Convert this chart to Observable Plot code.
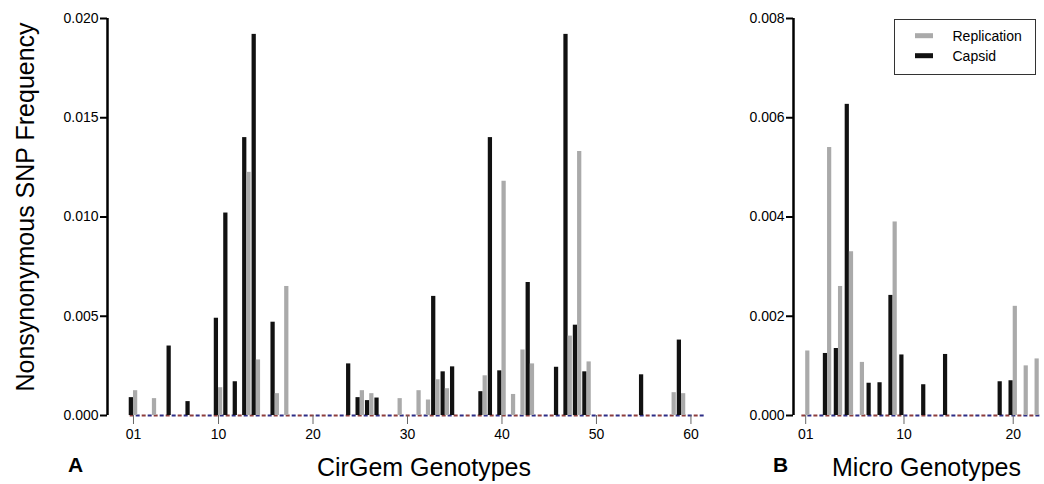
<!DOCTYPE html>
<html>
<head>
<meta charset="utf-8">
<script src="https://cdn.jsdelivr.net/npm/d3@7"></script>
<script src="https://cdn.jsdelivr.net/npm/@observablehq/plot@0.6"></script>
<style>
  html, body { margin: 0; padding: 0; background: #fff; }
  #wrap { position: relative; width: 1044px; height: 484px; overflow: hidden; font-family: "Liberation Sans", Arial, sans-serif; }
  #wrap > svg { position: absolute; top: 0; }
</style>
</head>
<body>
<div id="wrap"></div>
<script>
// ---- Data ----
const cirgemCapsidIds  = [1,5,7,10,11,12,13,14,16,24,25,26,27,33,34,35,38,39,40,43,46,47,48,49,55,59];
const cirgemCapsidVals = [0.0009,0.0035,0.0007,0.0049,0.0102,0.0017,0.0140,0.0192,0.0047,0.0026,0.0009,0.00075,0.00088,0.0060,0.0022,0.00245,0.0012,0.0140,0.00225,0.0067,0.00243,0.0192,0.00455,0.0022,0.00205,0.0038];
const cirgemRepIds     = [1,3,10,13,14,16,17,25,26,29,31,32,33,34,38,40,41,42,43,47,48,49,58,59];
const cirgemRepVals    = [0.00125,0.00085,0.0014,0.01225,0.0028,0.0011,0.0065,0.00125,0.0011,0.00085,0.00125,0.00078,0.0018,0.00135,0.0020,0.0118,0.00106,0.0033,0.0026,0.0040,0.0133,0.0027,0.00115,0.0011];

const microCapsidIds   = [3,4,5,7,8,9,10,12,14,19,20];
const microCapsidVals  = [0.00125,0.00135,0.00627,0.00065,0.00066,0.00242,0.00122,0.00062,0.00123,0.00068,0.0007];
const microRepIds      = [1,3,4,5,6,9,20,21,22];
const microRepVals     = [0.0013,0.0054,0.0026,0.0033,0.00107,0.0039,0.0022,0.001,0.00114];

const cirgemXTicks = [1,10,20,30,40,50,60];
const microXTicks  = [1,10,20];
const cirgemYTicks = [0,0.005,0.010,0.015,0.020];
const microYTicks  = [0,0.002,0.004,0.006,0.008];

const seriesNames = ["Replication","Capsid"];
const seriesColors = ["#aaaaaa","#111111"];

const zip = (ids, vals) => ids.map((g, i) => ({g, v: vals[i]}));

function panel(o) {
  const cap = zip(o.capIds, o.capVals);
  const rep = zip(o.repIds, o.repVals);
  return Plot.plot({
    width: o.width, height: 484,
    marginLeft: o.marginLeft, marginRight: o.marginRight, marginTop: 18, marginBottom: 69,
    x: {domain: o.xDomain},
    y: {domain: [0, o.yMax]},
    style: {fontFamily: "Liberation Sans, Arial, sans-serif", color: "#000", background: "transparent", overflow: "visible"},
    marks: [
      Plot.ruleY([0], {x1: 0.65, x2: o.dashEnd, stroke: "#8e3d3d", strokeWidth: 2, strokeDasharray: "4 8"}),
      Plot.ruleY([0], {x1: 0.65, x2: o.dashEnd, stroke: "#2d2d86", strokeWidth: 2, strokeDasharray: "4 8", strokeDashoffset: -6}),
      Plot.rect(cap, {x1: d => d.g - o.w, x2: d => d.g, y1: () => 0, y2: d => d.v, fill: seriesColors[1]}),
      Plot.rect(rep, {x1: d => d.g, x2: d => d.g + o.w, y1: () => 0, y2: d => d.v, fill: seriesColors[0]}),
      Plot.ruleX([o.xDomain[0]], {y1: 0, y2: o.yMax, stroke: "#000", strokeWidth: 2.5}),
      Plot.axisY(o.yTicks, {tickFormat: d3.format(".3f"), tickSize: 7, tickPadding: 2, fontSize: 14, strokeWidth: 2, label: null}),
      Plot.axisX(o.xTicks, {tickFormat: d => d < 10 ? "0" + d : String(d), tickSize: 9, tickPadding: 5, fontSize: 14, stroke: "#666", strokeWidth: 1, label: null})
    ]
  });
}

const wrap = document.getElementById("wrap");

const left = panel({
  width: 720, marginLeft: 107, marginRight: 10.65, xDomain: [-1.75, 62], yMax: 0.02, yTicks: cirgemYTicks,
  capIds: cirgemCapsidIds, capVals: cirgemCapsidVals, repIds: cirgemRepIds, repVals: cirgemRepVals,
  w: 0.45, xTicks: cirgemXTicks, dashEnd: 61.4
});
left.style.left = "0px";
wrap.appendChild(left);

const right = panel({
  width: 324, marginLeft: 73, marginRight: 2.9, xDomain: [-0.117, 22.6], yMax: 0.008, yTicks: microYTicks,
  capIds: microCapsidIds, capVals: microCapsidVals, repIds: microRepIds, repVals: microRepVals,
  w: 0.385, xTicks: microXTicks, dashEnd: 22.5
});
right.style.left = "720px";
wrap.appendChild(right);

// ---- Annotation overlay: titles, panel letters, legend ----
const ns = "http://www.w3.org/2000/svg";
const ov = d3.create("svg").attr("width", 1044).attr("height", 484)
  .style("left", "0px").style("pointer-events", "none")
  .attr("font-family", "Liberation Sans, Arial, sans-serif");

ov.append("text").attr("transform", "translate(34,207) rotate(-90)").attr("text-anchor", "middle")
  .attr("font-size", 25).text("Nonsynonymous SNP Frequency");
ov.append("text").attr("x", 317).attr("y", 476).attr("font-size", 25).text("CirGem Genotypes");
ov.append("text").attr("x", 832).attr("y", 476).attr("font-size", 25).text("Micro Genotypes");
ov.append("text").attr("x", 68).attr("y", 472).attr("font-size", 21).attr("font-weight", "bold").text("A");
ov.append("text").attr("x", 773).attr("y", 472).attr("font-size", 21).attr("font-weight", "bold").text("B");

const lg = ov.append("g");
lg.append("rect").attr("x", 894.5).attr("y", 19.5).attr("width", 141).attr("height", 55)
  .attr("fill", "#fff").attr("stroke", "#333").attr("stroke-width", 1);
seriesNames.forEach((name, i) => {
  const cy = 35.7 + i * 20;
  lg.append("rect").attr("x", 915).attr("y", cy - 2.5).attr("width", 18).attr("height", 5).attr("fill", seriesColors[i]);
  lg.append("text").attr("x", 952.5).attr("y", cy + 5).attr("font-size", 14).text(name);
});
wrap.appendChild(ov.node());
</script>
</body>
</html>
